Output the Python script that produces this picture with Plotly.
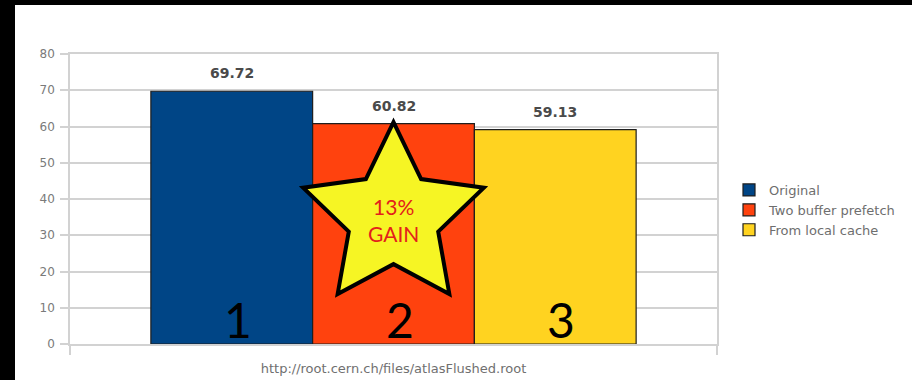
import math
import plotly.graph_objects as go

# ---- data -------------------------------------------------------------
series_names = ["Original", "Two buffer prefetch", "From local cache"]
read_times = [69.72, 60.82, 59.13]
bar_colors = ["#004586", "#ff420e", "#ffd320"]
bar_numbers = ["1", "2", "3"]
y_ticks = [0, 10, 20, 30, 40, 50, 60, 70, 80]
x_title = "http://root.cern.ch/files/atlasFlushed.root"

# ---- geometry of the figure ----------------------------------------
W, H = 912, 380
PLOT_L, PLOT_R, PLOT_T, PLOT_B = 70, 717, 54, 344
X_RANGE = [-1, 3]
Y_RANGE = [0, 80]
px_per_x = (PLOT_R - PLOT_L) / (X_RANGE[1] - X_RANGE[0])
px_per_y = (PLOT_B - PLOT_T) / (Y_RANGE[1] - Y_RANGE[0])


def paper_x(px):
    return (px - PLOT_L) / (PLOT_R - PLOT_L)


def paper_y(py):
    return (PLOT_B - py) / (PLOT_B - PLOT_T)


positions = list(range(len(read_times)))

fig = go.Figure()
for pos, name, val, col in zip(positions, series_names, read_times, bar_colors):
    fig.add_trace(go.Bar(
        x=[pos], y=[val], width=1, name=name,
        marker=dict(color=col, line=dict(color="#1e1e1e", width=1.2)),
        hoverinfo="name+y",
    ))

# white slide panel on the black background
shapes = [dict(
    type="rect", xref="paper", yref="paper", layer="below",
    x0=paper_x(15), x1=paper_x(W + 5), y0=paper_y(H + 5), y1=paper_y(5),
    fillcolor="white", line=dict(width=0),
)]

# star highlighting the gain of the prefetch
gain_pct = round((read_times[0] - read_times[1]) / read_times[0] * 100)
star_cx, star_cy = positions[1], 35.0
R_out, R_in = 95, 47
pts = []
for k in range(10):
    ang = math.radians(k * 36)
    rad = R_out if k % 2 == 0 else R_in
    dx = rad * math.sin(ang) / px_per_x
    dy = rad * math.cos(ang) / px_per_y
    pts.append((star_cx + dx, star_cy + dy))
path = "M" + " L".join(f"{x:.4f},{y:.4f}" for x, y in pts) + " Z"
shapes.append(dict(
    type="path", xref="x", yref="y", path=path, layer="above",
    fillcolor="#f6f524", line=dict(color="black", width=4),
))

annotations = []
# value labels above bars
for pos, val in zip(positions, read_times):
    annotations.append(dict(
        x=pos, y=val, xref="x", yref="y", text=f"{val:.2f}",
        showarrow=False, yanchor="bottom", yshift=8,
        font=dict(family="DejaVu Sans", size=14, color="#4a4a4a", weight="bold"),
    ))
# large numbers at the foot of each bar
for pos, num in zip(positions, bar_numbers):
    annotations.append(dict(
        x=pos, y=6.8, xref="x", yref="y", text=num, showarrow=False,
        yanchor="middle", xshift=6,
        font=dict(family="Lato", size=48, color="black"),
    ))
# gain text in the star
annotations.append(dict(
    x=star_cx, y=34.2, xref="x", yref="y", text=f"{gain_pct}%<br>GAIN",
    showarrow=False, yanchor="middle",
    font=dict(family="Lato", size=21, color="#e3201b"),
))

grid_col = "#d2d2d2"
fig.update_layout(
    width=W, height=H,
    margin=dict(l=PLOT_L, r=W - PLOT_R, t=PLOT_T, b=H - PLOT_B, autoexpand=False),
    paper_bgcolor="black", plot_bgcolor="white",
    barmode="overlay",
    showlegend=True,
    legend=dict(
        x=paper_x(729), y=paper_y(175), xanchor="left", yanchor="top",
        bgcolor="rgba(0,0,0,0)",
        font=dict(family="DejaVu Sans", size=13, color="#6e6e6e"),
        tracegroupgap=0,
    ),
    xaxis=dict(
        range=X_RANGE, tickvals=[X_RANGE[0], X_RANGE[1]], showticklabels=False,
        ticks="outside", ticklen=9, tickwidth=1.5, tickcolor=grid_col,
        showgrid=False, zeroline=False,
        showline=True, linecolor=grid_col, linewidth=1.5, mirror=True,
        fixedrange=True,
        title=dict(text=x_title, standoff=10,
                   font=dict(family="DejaVu Sans", size=13, color="#707070")),
    ),
    yaxis=dict(
        range=Y_RANGE, tickvals=y_ticks, ticks="outside", ticklen=8,
        tickwidth=1.5, tickcolor=grid_col, ticklabelstandoff=3,
        showgrid=True, gridcolor=grid_col, gridwidth=1.5,
        showline=True, linecolor=grid_col, linewidth=1.5, mirror=True,
        zeroline=False, fixedrange=True,
        tickfont=dict(family="DejaVu Sans", size=12, color="#7a7a7a"),
    ),
    shapes=shapes,
    annotations=annotations,
)

fig.write_html("out.html")
